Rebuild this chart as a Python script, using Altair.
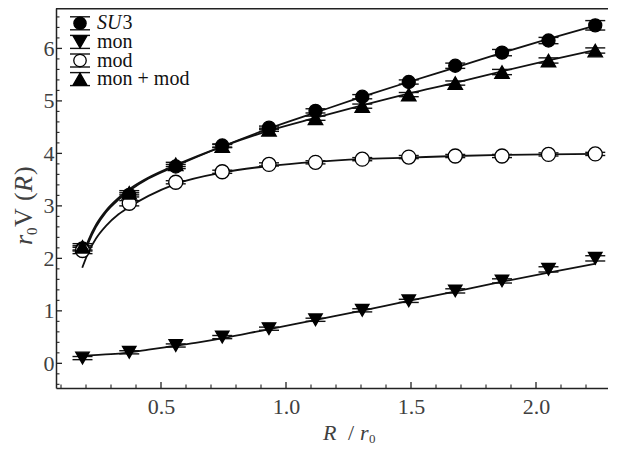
import altair as alt
import pandas as pd

# ---------------- data ----------------
R_vals = [0.186, 0.373, 0.559, 0.745, 0.932, 1.118, 1.305, 1.491, 1.677, 1.864, 2.050, 2.237]
series = ["SU3", "mon", "mod", "mon + mod"]

su3 = [2.19, 3.21, 3.75, 4.15, 4.49, 4.81, 5.08, 5.36, 5.67, 5.92, 6.15, 6.44]
su3_err = [0.05, 0.04, 0.04, 0.03, 0.03, 0.04, 0.04, 0.04, 0.05, 0.06, 0.06, 0.09]
mon = [0.10, 0.21, 0.34, 0.50, 0.66, 0.83, 1.01, 1.19, 1.38, 1.57, 1.79, 2.00]
mon_err = [0.03, 0.03, 0.03, 0.03, 0.03, 0.03, 0.03, 0.03, 0.04, 0.04, 0.05, 0.05]
mod = [2.15, 3.05, 3.45, 3.65, 3.79, 3.83, 3.89, 3.93, 3.95, 3.95, 3.98, 3.99]
mod_err = [0.06, 0.05, 0.03, 0.03, 0.03, 0.03, 0.03, 0.03, 0.03, 0.03, 0.03, 0.03]
monmod = [2.22, 3.25, 3.79, 4.14, 4.45, 4.67, 4.90, 5.12, 5.34, 5.55, 5.77, 5.96]
monmod_err = [0.06, 0.04, 0.04, 0.03, 0.03, 0.04, 0.04, 0.04, 0.04, 0.05, 0.05, 0.05]

# fitted curves
fit_x_top = [0.195, 0.21, 0.24, 0.28, 0.33, 0.38, 0.45, 0.56, 0.75, 0.93, 1.12, 1.30, 1.49, 1.68, 1.86, 2.05, 2.24]
fit_su3 = [2.12, 2.30, 2.60, 2.88, 3.12, 3.31, 3.52, 3.76, 4.14, 4.47, 4.78, 5.07, 5.36, 5.64, 5.91, 6.18, 6.44]
fit_monmod = [2.16, 2.35, 2.64, 2.91, 3.15, 3.34, 3.54, 3.78, 4.14, 4.43, 4.68, 4.91, 5.14, 5.35, 5.56, 5.77, 5.97]
fit_x_mod = [0.185, 0.21, 0.24, 0.28, 0.33, 0.38, 0.45, 0.56, 0.75, 0.93, 1.12, 1.30, 1.49, 1.68, 1.86, 2.05, 2.24]
fit_mod = [1.82, 2.12, 2.38, 2.62, 2.84, 3.00, 3.19, 3.42, 3.64, 3.76, 3.84, 3.89, 3.92, 3.95, 3.97, 3.98, 3.99]
fit_x_mon = [0.185, 0.25, 0.30, 0.36, 0.45, 0.55, 0.65, 0.75, 0.90, 1.12, 1.30, 1.49, 1.68, 1.86, 2.05, 2.24]
fit_mon = [0.145, 0.16, 0.175, 0.20, 0.26, 0.33, 0.40, 0.48, 0.62, 0.83, 1.00, 1.19, 1.37, 1.55, 1.73, 1.90]

x_major = [0.5, 1.0, 1.5, 2.0]
x_minor = [round(0.1 * i, 1) for i in range(1, 23) if i % 5 != 0]
y_major = [0, 1, 2, 3, 4, 5, 6]
y_minor = [round(-0.4 + 0.2 * i, 1) for i in range(0, 36) if abs((-0.4 + 0.2 * i) - round(-0.4 + 0.2 * i)) > 1e-6]

# ---------------- tables ----------------
rows = []
for name, vals, errs in zip(series, [su3, mon, mod, monmod], [su3_err, mon_err, mod_err, monmod_err]):
    for r, v, e in zip(R_vals, vals, errs):
        rows.append({"series": name, "R": r, "V": v, "lo": v - e, "hi": v + e})
pts = pd.DataFrame(rows)

frows = []
for name, xs_, ys_ in [("SU3", fit_x_top, fit_su3), ("mon", fit_x_mon, fit_mon),
                       ("mod", fit_x_mod, fit_mod), ("mon + mod", fit_x_top, fit_monmod)]:
    for i, (a, b) in enumerate(zip(xs_, ys_)):
        frows.append({"series": name, "R": a, "V": b, "i": i})
fits = pd.DataFrame(frows)

# ---------------- styling ----------------
W, H = 552, 380
FONT = "Liberation Serif"
INK = "#111111"
LAB = "#404040"
xs = alt.Scale(domain=[0.08, 0.08 + W / 250.0], nice=False, zero=False)
ys = alt.Scale(domain=[-0.47, 6.77], nice=False, zero=False)

xaxis = alt.Axis(values=x_major, format=".1f", title=None, ticks=False, tickSize=0, grid=False,
                 labelFont=FONT, labelFontSize=22, labelColor=LAB, labelPadding=8,
                 domainColor="#222222", domainWidth=1.5, labelFlush=False)
yaxis = alt.Axis(values=y_major, format="d", title=None, ticks=False, tickSize=0, grid=False,
                 labelFont=FONT, labelFontSize=22, labelColor=LAB, labelPadding=2,
                 domainColor="#222222", domainWidth=1.5, labelFlush=False)

shape_sc = alt.Scale(domain=series, range=["circle", "triangle-down", "circle", "triangle-up"])
fill_sc = alt.Scale(domain=series, range=["black", "black", "white", "black"])
size_sc = alt.Scale(domain=series, range=[170, 210, 175, 210])

X = alt.X("R:Q", scale=xs, axis=xaxis)
Y = alt.Y("V:Q", scale=ys, axis=yaxis)

curves = alt.Chart(fits).mark_line(color=INK, strokeWidth=1.8, interpolate="monotone").encode(
    x=X, y=Y, detail="series:N", order="i:Q")

bars = alt.Chart(pts).mark_rule(color=INK, strokeWidth=1.3).encode(
    x=X, y=alt.Y("lo:Q", scale=ys, axis=yaxis), y2="hi:Q")
cap_lo = alt.Chart(pts).mark_tick(orient="horizontal", size=20, thickness=1.4, color=INK, opacity=1).encode(
    x=X, y=alt.Y("lo:Q", scale=ys, axis=yaxis))
cap_hi = alt.Chart(pts).mark_tick(orient="horizontal", size=20, thickness=1.4, color=INK, opacity=1).encode(
    x=X, y=alt.Y("hi:Q", scale=ys, axis=yaxis))

markers = alt.Chart(pts).mark_point(strokeWidth=1.3, opacity=1, fillOpacity=1).encode(
    x=X, y=Y,
    shape=alt.Shape("series:N", scale=shape_sc, legend=None),
    fill=alt.Fill("series:N", scale=fill_sc, legend=None),
    size=alt.Size("series:N", scale=size_sc, legend=None),
    stroke=alt.value("black"))

# inward axis ticks
xt_major = alt.Chart(pd.DataFrame({"t": x_major})).mark_rule(color="#222222", strokeWidth=1.3).encode(
    x=alt.X("t:Q", scale=xs, axis=xaxis), y=alt.value(H), y2=alt.value(H - 6))
xt_minor = alt.Chart(pd.DataFrame({"t": x_minor})).mark_rule(color="#222222", strokeWidth=1.1).encode(
    x=alt.X("t:Q", scale=xs, axis=xaxis), y=alt.value(H), y2=alt.value(H - 3.5))
yt_major = alt.Chart(pd.DataFrame({"t": y_major})).mark_rule(color="#222222", strokeWidth=1.3).encode(
    y=alt.Y("t:Q", scale=ys, axis=yaxis), x=alt.value(0), x2=alt.value(6))
yt_minor = alt.Chart(pd.DataFrame({"t": y_minor})).mark_rule(color="#222222", strokeWidth=1.1).encode(
    y=alt.Y("t:Q", scale=ys, axis=yaxis), x=alt.value(0), x2=alt.value(3.5))

one = pd.DataFrame({"a": [0]})
top_line = alt.Chart(one).mark_rule(color="#222222", strokeWidth=1.5).encode(
    x=alt.value(0), x2=alt.value(W), y=alt.value(0.75))

# ---------------- legend ----------------
leg_layers = []
for i, name in enumerate(series):
    yy = 15.3 + 18.6 * i
    leg_layers.append(alt.Chart(one).mark_rule(color=INK, strokeWidth=1.4).encode(
        x=alt.value(14), x2=alt.value(34), y=alt.value(yy - 6.5)))
    leg_layers.append(alt.Chart(one).mark_rule(color=INK, strokeWidth=1.4).encode(
        x=alt.value(14), x2=alt.value(34), y=alt.value(yy + 6.5)))
    leg_layers.append(alt.Chart(one).mark_rule(color=INK, strokeWidth=1.3).encode(
        x=alt.value(24), y=alt.value(yy - 6.5), y2=alt.value(yy + 6.5)))
    leg_layers.append(alt.Chart(one).mark_point(strokeWidth=1.3, opacity=1, fillOpacity=1).encode(
        x=alt.value(24), y=alt.value(yy),
        shape=alt.value(shape_sc.range[i]),
        fill=alt.value(fill_sc.range[i]),
        size=alt.value(size_sc.range[i] - 20),
        stroke=alt.value("black")))
    if name == "SU3":
        leg_layers.append(alt.Chart(one).mark_text(font=FONT, fontSize=20, fontStyle="italic", color=INK,
                                                   align="left", baseline="middle").encode(
            x=alt.value(41), y=alt.value(yy), text=alt.value("SU")))
        leg_layers.append(alt.Chart(one).mark_text(font=FONT, fontSize=20, color=INK,
                                                   align="left", baseline="middle").encode(
            x=alt.value(66.5), y=alt.value(yy), text=alt.value("3")))
    else:
        leg_layers.append(alt.Chart(one).mark_text(font=FONT, fontSize=20, color=INK,
                                                   align="left", baseline="middle").encode(
            x=alt.value(41), y=alt.value(yy), text=alt.value(name)))

# ---------------- axis titles (mixed italic) ----------------
def txt(s, x, y, size=22, italic=False, angle=0):
    kw = dict(font=FONT, fontSize=size, color=LAB, align="left", baseline="alphabetic")
    if italic:
        kw["fontStyle"] = "italic"
    if angle:
        kw["angle"] = angle
    return alt.Chart(one).mark_text(**kw).encode(x=alt.value(x), y=alt.value(y), text=alt.value(s))

titles = [
    txt("R", 267, 432, italic=True),
    txt("/", 292, 432),
    txt("r", 304, 432, italic=True),
    txt("0", 313, 435, size=13),
    txt("r", -24, 237, size=26, italic=True, angle=270),
    txt("0", -19, 227, size=15, angle=270),
    txt("V", -24, 219, size=26, angle=270),
    txt("(", -24, 193, size=26, angle=270),
    txt("R", -24, 184, size=26, italic=True, angle=270),
    txt(")", -24, 167, size=26, angle=270),
]

chart = alt.layer(
    curves, bars, cap_lo, cap_hi, markers,
    xt_major, xt_minor, yt_major, yt_minor, top_line,
    *leg_layers, *titles
).properties(
    width=W, height=H,
    padding={"left": 48, "top": 0, "right": 0, "bottom": 60},
    autosize=alt.AutoSizeParams(type="none"),
    background="white",
).configure_view(stroke=None)

chart.save("out.html", embed_options={"renderer": "svg", "actions": False})
